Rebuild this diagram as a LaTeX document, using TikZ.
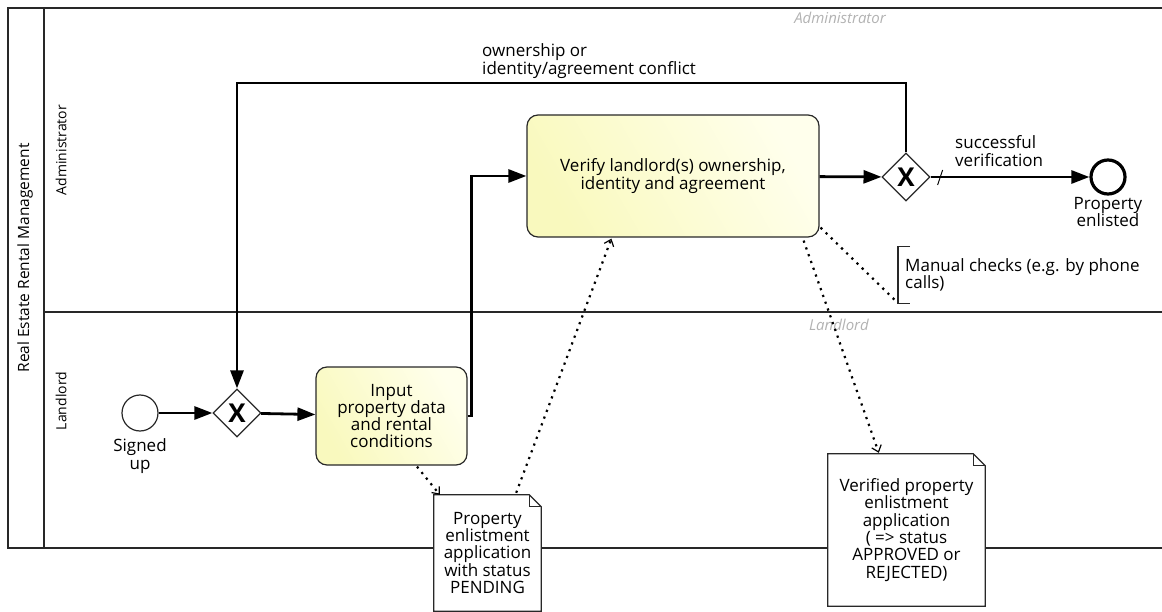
\documentclass[tikz,border=0pt]{standalone}
\usepackage{fontspec}
\setmainfont{Open Sans}
\usetikzlibrary{arrows.meta,shapes.geometric,calc,backgrounds}

\definecolor{taskA}{RGB}{249,249,190}
\definecolor{taskB}{RGB}{255,255,236}
\definecolor{lanegray}{RGB}{178,178,178}
\definecolor{edge}{RGB}{40,40,40}

\begin{document}
\begin{tikzpicture}[x=1pt,y=-1pt,
  every node/.style={font=\fontsize{17}{17.3}\selectfont, inner sep=0pt, align=center},
  poolline/.style={line width=1.3pt, draw=edge},
  flow/.style={line width=2.8pt, -{Triangle[length=18pt,width=13pt]}},
  assoc/.style={line width=2.2pt, dash pattern=on 2.2pt off 5pt,
                -{Straight Barb[length=6pt,width=10pt,line width=1.2pt]}},
  annline/.style={line width=2.2pt, dash pattern=on 2.2pt off 5pt},
  task/.style={draw=edge, line width=1.2pt, rounded corners=11pt,
               left color=taskA, right color=taskB, shading angle=120},
  gateway/.style={diamond, draw=edge, line width=1.2pt, fill=white, aspect=1,
                  minimum width=48pt, minimum height=48pt,
                  font=\fontsize{26}{26}\selectfont\bfseries},
  startev/.style={circle, draw=edge, line width=1.2pt, fill=white, minimum size=36pt},
  endev/.style={circle, draw=black, line width=3.2pt, fill=white, minimum size=34pt},
  dataobj/.style={rectangle},
  docoutline/.style={fill=white, draw=edge, line width=1.2pt},
  lanetitle/.style={rotate=90, font=\fontsize{14}{16}\selectfont},
  laneghost/.style={text=lanegray, font=\fontsize{15}{16}\selectfont\itshape}
]
\useasboundingbox (0,0) rectangle (1162,612);

% pool and lanes (kept on the background layer, under the documents)
\begin{scope}[on background layer]
\draw[poolline] (1162,8) -- (8,8) -- (8,548) -- (1162,548);
\draw[poolline] (44,8) -- (44,548);
\draw[poolline] (44,312) -- (1162,312);
\end{scope}
\node[lanetitle, font=\fontsize{15.5}{17}\selectfont] (pooltitle) at (25,258) {Real Estate Rental Management};
\node[lanetitle] (adminlane) at (61,150) {Administrator};
\node[lanetitle] (landlane) at (61,401) {Landlord};
\node[laneghost, anchor=east] (adminghost) at (886,18) {Administrator};
\node[laneghost, anchor=east] (landghost) at (869,325) {Landlord};

% flow elements
\node[startev] (start) at (140,413) {};
\node (startlbl) at (140,456) {Signed\\up};
\node[gateway] (gw1) at (237,413) {X};
\node[task, minimum width=151pt, minimum height=98pt] (t1) at (391.5,416)
  {Input\\property data\\and rental\\conditions};
\node[task, minimum width=292pt, minimum height=122pt] (t2) at (673,176)
  {Verify landlord(s) ownership,\\identity and agreement};
\node[gateway] (gw2) at (906,177) {X};
\node[endev] (end) at (1108,177) {};
\node (endlbl) at (1108,212) {Property\\enlisted};

% data objects: text nodes with a folded-corner sheet behind them
\node[dataobj, minimum width=107pt, minimum height=116pt] (d1) at (487.5,553)
  {Property\\enlistment\\application\\with status\\PENDING};
\node[dataobj, minimum width=157pt, minimum height=152pt] (d2) at (906.5,530)
  {Verified property\\enlistment\\application\\( => status\\APPROVED or\\REJECTED)};
\begin{scope}[on background layer]
\foreach \d in {d1,d2}{
  \filldraw[docoutline]
    (\d.north west) -- ($(\d.north east)+(-12,0)$) -- ($(\d.north east)+(0,12)$)
    -- (\d.south east) -- (\d.south west) -- cycle;
  \draw[draw=edge, line width=1pt] ($(\d.north east)+(-12,0)$) |- ($(\d.north east)+(0,12)$);
}
\end{scope}

% annotation
\node[anchor=west, align=left, inner xsep=7pt, minimum height=56pt] (ann) at (898,275)
  {Manual checks (e.g. by phone\\calls)};
\draw[draw=edge, line width=1.2pt] ($(ann.north west)+(12,0)$) -- (ann.north west)
  -- (ann.south west) -- ($(ann.south west)+(12,0)$);

% sequence flows
\draw[flow] (start) -- (gw1);
\draw[flow] (gw1) -- (t1);
\draw[flow] (t1.east) -- ++(4,0) |- (t2.west);
\draw[flow] (t2) -- (gw2);
\draw[flow] (gw2) -- (end);
\draw[line width=1pt] ($(gw2.east)+(7,8)$) -- ($(gw2.east)+(12,-7)$);
\coordinate (loop) at (906,83);
\draw[flow] (gw2.north) -- (loop) -| (gw1.north);
\node[anchor=west, align=left] (conflictlbl) at (482,61) {ownership or\\identity/agreement conflict};
\node[anchor=west, align=left] (successlbl) at (955,151) {successful\\verification};

% data associations
\draw[assoc] ($(t1.south)+(25.5,1)$) -- ($(d1.north west)+(6,0)$);
\draw[assoc] ($(d1.north east)+(-25,-2)$) -- ($(t2.south west)+(85,1)$);
\draw[assoc] ($(t2.south east)+(-16,3)$) -- ($(d2.north west)+(51,-1)$);
\draw[annline] ($(t2.south east)+(1,-10)$) -- ($(ann.south west)+(-3,-3)$);
\end{tikzpicture}
\end{document}
